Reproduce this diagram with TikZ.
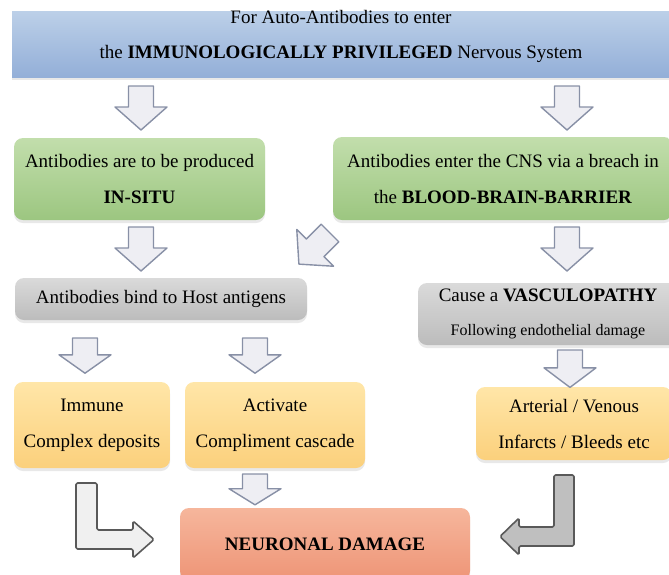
\documentclass[tikz,border=0pt]{standalone}
\usepackage{fontspec}
\setmainfont{Liberation Serif}
\usetikzlibrary{shadows}
\definecolor{blueT}{HTML}{BCD0E8}
\definecolor{blueB}{HTML}{93AFD8}
\definecolor{greenT}{HTML}{C2DEAC}
\definecolor{greenB}{HTML}{9CC680}
\definecolor{greyT}{HTML}{DADADA}
\definecolor{greyB}{HTML}{BCBCBC}
\definecolor{orT}{HTML}{FFE6A8}
\definecolor{orB}{HTML}{FBD07C}
\definecolor{salT}{HTML}{F6B69C}
\definecolor{salB}{HTML}{EE9577}
\definecolor{arrfill}{HTML}{EEEEF3}
\definecolor{arrline}{HTML}{8890A6}
\begin{document}
\begin{tikzpicture}[x=1pt,y=-1pt,
  box/.style={rounded corners=9pt, draw=none, inner sep=0pt, align=center,
    font=\fontsize{19}{36}\selectfont,
    drop shadow={opacity=0.18, shadow xshift=0pt, shadow yshift=-3pt}},
  txt/.style={inner sep=0pt, align=center, font=\fontsize{19}{35}\selectfont},
  blockarrow/.style={fill=arrfill, draw=arrline, line width=1.4pt, line join=round},
  bentarrow/.style={draw=black!65, line width=1.6pt, line join=round, rounded corners=1.5pt},
  darrow/.pic={\path[blockarrow] (-12.5,0) -- (12.5,0) -- (12.5,21) -- (26,21) -- (0,44)
      -- (-26,21) -- (-12.5,21) -- cycle;}
]
\useasboundingbox (0,0) rectangle (669,574);
\clip (0,0) rectangle (669,574);

% top box
\node[box, rounded corners=0pt, top color=blueT, bottom color=blueB,
  minimum width=657pt, minimum height=66pt] (top) at (340.5,44) {};
\node[txt] (toptext) at (341,36.5) {For Auto-Antibodies to enter\\
  the \textbf{IMMUNOLOGICALLY PRIVILEGED} Nervous System};

% green boxes
\node[box, top color=greenT, bottom color=greenB,
  minimum width=251pt, minimum height=82pt] (gl) at (139.5,179)
  {Antibodies are to be produced\\\textbf{IN-SITU}};
\node[box, top color=greenT, bottom color=greenB,
  minimum width=340pt, minimum height=83pt] (gr) at (503,178.5)
  {Antibodies enter the CNS via a breach in\\the \textbf{BLOOD-BRAIN-BARRIER}};

% grey boxes
\node[box, top color=greyT, bottom color=greyB,
  minimum width=292pt, minimum height=42pt] (hl) at (161,299)
  {Antibodies bind to Host antigens};
\node[box, top color=greyT, bottom color=greyB,
  minimum width=260pt, minimum height=62pt] (hr) at (548,314)
  {Cause a \textbf{VASCULOPATHY}\\[-2pt]{\fontsize{16}{18}\selectfont Following endothelial damage}};

% orange boxes
\node[box, top color=orT, bottom color=orB,
  minimum width=156pt, minimum height=86pt] (ol) at (92,425)
  {Immune\\Complex deposits};
\node[box, top color=orT, bottom color=orB,
  minimum width=180pt, minimum height=86pt] (om) at (275,425)
  {Activate\\Compliment cascade};
\node[box, top color=orT, bottom color=orB,
  minimum width=196pt, minimum height=73pt] (or) at (574,423.5)
  {Arterial / Venous\\Infarcts / Bleeds etc};

% neuronal damage
\node[box, top color=salT, bottom color=salB,
  minimum width=290pt, minimum height=72pt] (nd) at (325,544)
  {\textbf{NEURONAL DAMAGE}};

% block arrows
\pic at (141,86) {darrow};
\pic at (567,86) {darrow};
\pic at (141,227) {darrow};
\pic at (567,227) {darrow};
\pic[rotate=-45] at (330,233) {darrow};
\pic[yscale=0.8] at (85,338) {darrow};
\pic[yscale=0.8] at (255,338) {darrow};
\pic[yscale=0.85] at (570,350) {darrow};
\pic[yscale=0.7] at (255,474) {darrow};

% bent arrows
\path[bentarrow, fill=black!6] (76,483) -- (97,483) -- (97,530) -- (133,530) -- (133,521)
  -- (154,539.5) -- (133,558) -- (133,549) -- (76,549) -- cycle;
\path[bentarrow, fill=black!25] (554,475) -- (574,475) -- (574,546) -- (519,546) -- (519,555)
  -- (500,536.5) -- (519,518) -- (519,527) -- (554,527) -- cycle;
\end{tikzpicture}
\end{document}
